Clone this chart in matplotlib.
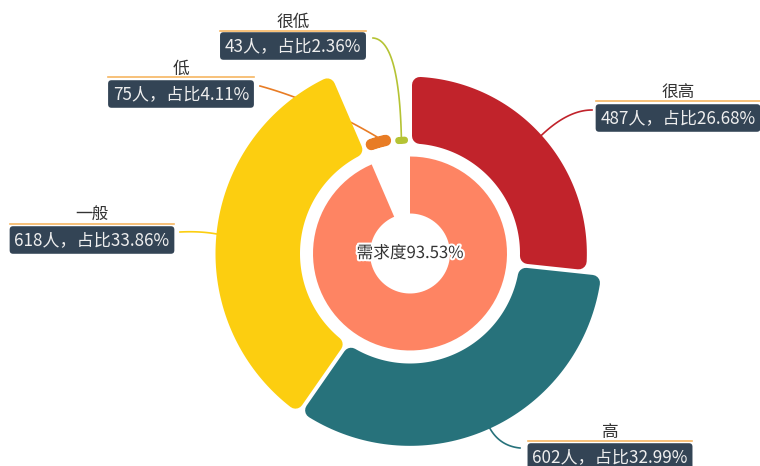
import numpy as np
import matplotlib
matplotlib.use("Agg")
import matplotlib.pyplot as plt
from matplotlib.patches import Polygon
import matplotlib.patheffects as pe

plt.rcParams['font.family'] = ['Noto Sans CJK SC', 'DejaVu Sans']

# survey answers, clockwise from 12 o'clock
names = ['很高', '高', '一般', '低', '很低']
counts = [487, 602, 618, 75, 43]
colors = ['#c1232b', '#27727b', '#fcce10', '#e87c25', '#b5c334']
demand_levels = ['很高', '高', '一般']   # counted as "需求"
inner_color = '#fe8463'

# label layout: (name x, name y), box centre y, rule y, leader end, leader control point
label_pos = {
    '很高': dict(xy=(678, 92), box_y=118, rule_y=101, end=(592, 110), ctrl=(568, 110)),
    '高': dict(xy=(610, 432), box_y=457, rule_y=441, end=(520, 448), ctrl=(500, 446)),
    '一般': dict(xy=(92, 214), box_y=240, rule_y=224, end=(180, 232), ctrl=(200, 231)),
    '低': dict(xy=(181, 69), box_y=94, rule_y=77, end=(260, 86), ctrl=(318, 102)),
    '很低': dict(xy=(293, 22), box_y=46, rule_y=31, end=(373, 38), ctrl=(399, 40)),
}

cx, cy = 410, 253.5
r_in = 110            # inner edge of the rose ring
r_lo, r_hi = 117, 194.5
gap = 4.0
corner = 8.0


def to_xy(theta, r):
    return cx + r * np.sin(theta), cy - r * np.cos(theta)


def sector(t1, t2, r0, r1, d=0.0, rr=0.0, n=90):
    ri, ro = r0 + rr, r1 - rr
    a = np.arcsin(min(d / ro, 1.0))
    th_o = np.linspace(t1 + a, t2 - a, n)
    a = np.arcsin(min(d / ri, 1.0))
    th_i = np.linspace(t2 - a, t1 + a, n)
    xo, yo = to_xy(th_o, ro)
    xi, yi = to_xy(th_i, ri)
    return np.column_stack([np.r_[xo, xi], np.r_[yo, yi]])


fig = plt.figure(figsize=(7.6, 4.66), dpi=100)
ax = fig.add_axes([0, 0, 1, 1])
ax.set_xlim(0, 760)
ax.set_ylim(466, 0)
ax.axis('off')

total = sum(counts)
vmin, vmax = min(counts), max(counts)
start = 0.0
for name, v, c in zip(names, counts, colors):
    span = v / total * 2 * np.pi
    t1, t2 = start, start + span
    r_out = r_lo + (v - vmin) / (vmax - vmin) * (r_hi - r_lo)
    rr = min(corner, (r_out - r_in) / 2 - 0.3)
    poly = sector(t1, t2, r_in, r_out, d=gap / 2 + rr, rr=rr)
    ax.add_patch(Polygon(poly, closed=True, fc=c, ec=c, lw=2 * rr * 0.72,
                         joinstyle='round', zorder=3))

    # leader line (quadratic curve)
    mid = (t1 + t2) / 2
    p0 = np.array(to_xy(mid, r_out))
    lp = label_pos[name]
    p1 = np.array(lp['ctrl'])
    p2 = np.array(lp['end'])
    s = np.linspace(0, 1, 60)[:, None]
    curve = (1 - s) ** 2 * p0 + 2 * (1 - s) * s * p1 + s ** 2 * p2
    ax.plot(curve[:, 0], curve[:, 1], color=c, lw=1.2, zorder=2)

    pct = v / total * 100
    ax.text(lp['xy'][0], lp['xy'][1], name, ha='center', va='center',
            fontsize=12, color='#333333', zorder=5)
    t = ax.text(lp['xy'][0], lp['box_y'], f'{v}人，占比{pct:.2f}%',
                ha='center', va='center', fontsize=12.3, color='#eeeeee', zorder=5,
                bbox=dict(boxstyle='round,pad=0.28,rounding_size=0.2',
                          fc='#334455', ec='none'))
    lp['text'] = t
    start = t2

# inner ring: share of high demand
demand = sum(v for n_, v in zip(names, counts) if n_ in demand_levels) / total
ax.add_patch(Polygon(sector(0, demand * 2 * np.pi, 40, 97), closed=True,
                     fc=inner_color, ec='none', zorder=3))
ax.text(cx, cy, f'需求度{demand * 100:.2f}%', ha='center', va='center',
        fontsize=12, color='#333333', zorder=6,
        path_effects=[pe.withStroke(linewidth=3, foreground='white')])

# orange rule between name and value box, as wide as the box
fig.canvas.draw()
renderer = fig.canvas.get_renderer()
inv = ax.transData.inverted()
for name in names:
    lp = label_pos[name]
    bb = lp['text'].get_bbox_patch().get_window_extent(renderer)
    (x0, _), (x1, _) = inv.transform([(bb.x0, bb.y0), (bb.x1, bb.y1)])
    ax.plot([x0, x1], [lp['rule_y'], lp['rule_y']], color='#f3a43b', lw=1.2,
            alpha=0.8, zorder=4)

fig.savefig('out.png', dpi=100)
